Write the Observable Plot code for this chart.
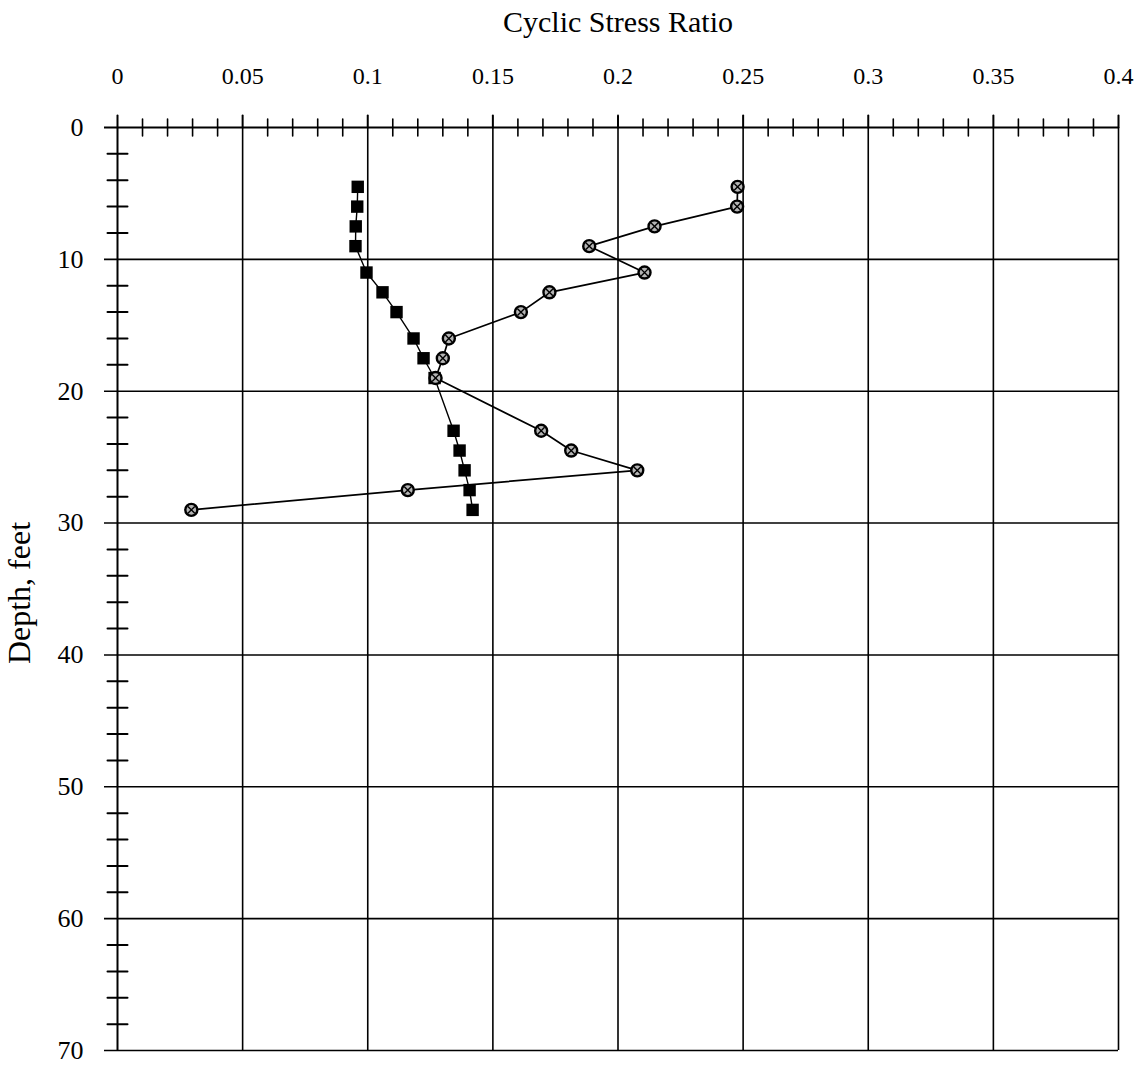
<!DOCTYPE html>
<html>
<head>
<meta charset="utf-8">
<script src="https://cdn.jsdelivr.net/npm/d3@7"></script>
<script src="https://cdn.jsdelivr.net/npm/@observablehq/plot@0.6"></script>
<style>
  html, body { margin: 0; padding: 0; background: #fff; }
  #chart svg { display: block; overflow: visible; }
</style>
</head>
<body>
<div id="chart"></div>
<script>
// Depth of each sample (feet)
const depthFt = [4.5, 6, 7.5, 9, 11, 12.5, 14, 16, 17.5, 19, 23, 24.5, 26, 27.5, 29];
// Cyclic stress ratio, filled-square series
const csrSquare = [0.096, 0.0958, 0.0952, 0.0951, 0.0995, 0.1059, 0.1115, 0.1183, 0.1223, 0.1267, 0.1343, 0.1367, 0.1387, 0.1407, 0.1419];
// Cyclic stress ratio, hatched-circle series
const csrCircle = [0.2478, 0.2476, 0.2146, 0.1885, 0.2106, 0.1726, 0.1612, 0.1324, 0.1300, 0.1271, 0.1693, 0.1813, 0.2077, 0.1160, 0.0295];

// Axis ticks and labels
const xTicks = [0, 0.05, 0.1, 0.15, 0.2, 0.25, 0.3, 0.35, 0.4];
const xTickLabels = ["0", "0.05", "0.1", "0.15", "0.2", "0.25", "0.3", "0.35", "0.4"];
const xMinorTicks = [0.01, 0.02, 0.03, 0.04, 0.06, 0.07, 0.08, 0.09, 0.11, 0.12, 0.13, 0.14,
  0.16, 0.17, 0.18, 0.19, 0.21, 0.22, 0.23, 0.24, 0.26, 0.27, 0.28, 0.29,
  0.31, 0.32, 0.33, 0.34, 0.36, 0.37, 0.38, 0.39];
const yTicks = [0, 10, 20, 30, 40, 50, 60, 70];
const yTickLabels = ["0", "10", "20", "30", "40", "50", "60", "70"];
const yMinorTicks = [2, 4, 6, 8, 12, 14, 16, 18, 22, 24, 26, 28, 32, 34, 36, 38,
  42, 44, 46, 48, 52, 54, 56, 58, 62, 64, 66, 68];

const squares = depthFt.map((d, i) => ({depth: d, csr: csrSquare[i]}));
const circles = depthFt.map((d, i) => ({depth: d, csr: csrCircle[i]}));

const serif = "'Liberation Serif', 'Times New Roman', serif";

// straight tick stroke for vector marks
const tickLine = {draw(ctx, l) { ctx.moveTo(0, 0); ctx.lineTo(0, -l); }};

const chart = Plot.plot({
  width: 1142,
  height: 1066,
  marginTop: 127,
  marginLeft: 117,
  marginRight: 24,
  marginBottom: 16,
  style: {fontFamily: serif, background: "#fff", color: "#000"},
  x: {domain: [0, 0.4], axis: null},
  y: {domain: [0, 70], reverse: true, axis: null},
  marks: [
    // grid
    Plot.ruleX(xTicks.slice(1), {stroke: "#000", strokeWidth: 1.6}),
    Plot.ruleY(yTicks.slice(1), {stroke: "#000", strokeWidth: 1.6, insetLeft: -13}),
    // axis lines
    Plot.ruleY([0], {stroke: "#000", strokeWidth: 2, insetLeft: -13}),
    Plot.ruleX([0], {stroke: "#000", strokeWidth: 2}),
    // top axis ticks
    Plot.vector(xTicks, {x: d => d, y: () => 0, length: 12, anchor: "start", shape: tickLine, stroke: "#000", strokeWidth: 2}),
    Plot.vector(xMinorTicks, {x: d => d, y: () => 0, length: 17, anchor: "middle", shape: tickLine, stroke: "#000", strokeWidth: 1.6}),
    // left axis ticks
    Plot.vector(yMinorTicks, {x: () => 0, y: d => d, length: 20, rotate: 90, anchor: "middle", shape: tickLine, stroke: "#000", strokeWidth: 2}),
    // tick labels
    Plot.text(xTicks, {x: d => d, frameAnchor: "top", dy: -44, lineAnchor: "bottom", textAnchor: "middle", text: (d, i) => xTickLabels[i], fontSize: 24, fill: "#000"}),
    Plot.text(yTicks, {y: d => d, frameAnchor: "left", dx: -34, textAnchor: "end", lineAnchor: "middle", text: (d, i) => yTickLabels[i], fontSize: 26, fill: "#000"}),
    // axis titles
    Plot.text(["Cyclic Stress Ratio"], {frameAnchor: "top", dy: -96, lineAnchor: "bottom", textAnchor: "middle", fontSize: 30, fill: "#000"}),
    Plot.text(["Depth, feet"], {frameAnchor: "left", dx: -88, dy: 4, rotate: -90, lineAnchor: "bottom", textAnchor: "middle", fontSize: 32, fill: "#000"}),
    // square series
    Plot.line(squares, {x: "csr", y: "depth", stroke: "#000", strokeWidth: 1.4}),
    Plot.dot(squares, {x: "csr", y: "depth", symbol: "square", r: 7, fill: "#000", stroke: "none"}),
    // circle series
    Plot.line(circles, {x: "csr", y: "depth", stroke: "#000", strokeWidth: 1.7}),
    Plot.dot(circles, {x: "csr", y: "depth", symbol: "circle", r: 6, fill: "#b4b4b4", stroke: "#000", strokeWidth: 2.4}),
    Plot.dot(circles, {x: "csr", y: "depth", symbol: "times", r: 3.2, stroke: "#000", strokeWidth: 1.4})
  ]
});

document.getElementById("chart").appendChild(chart);
</script>
</body>
</html>
